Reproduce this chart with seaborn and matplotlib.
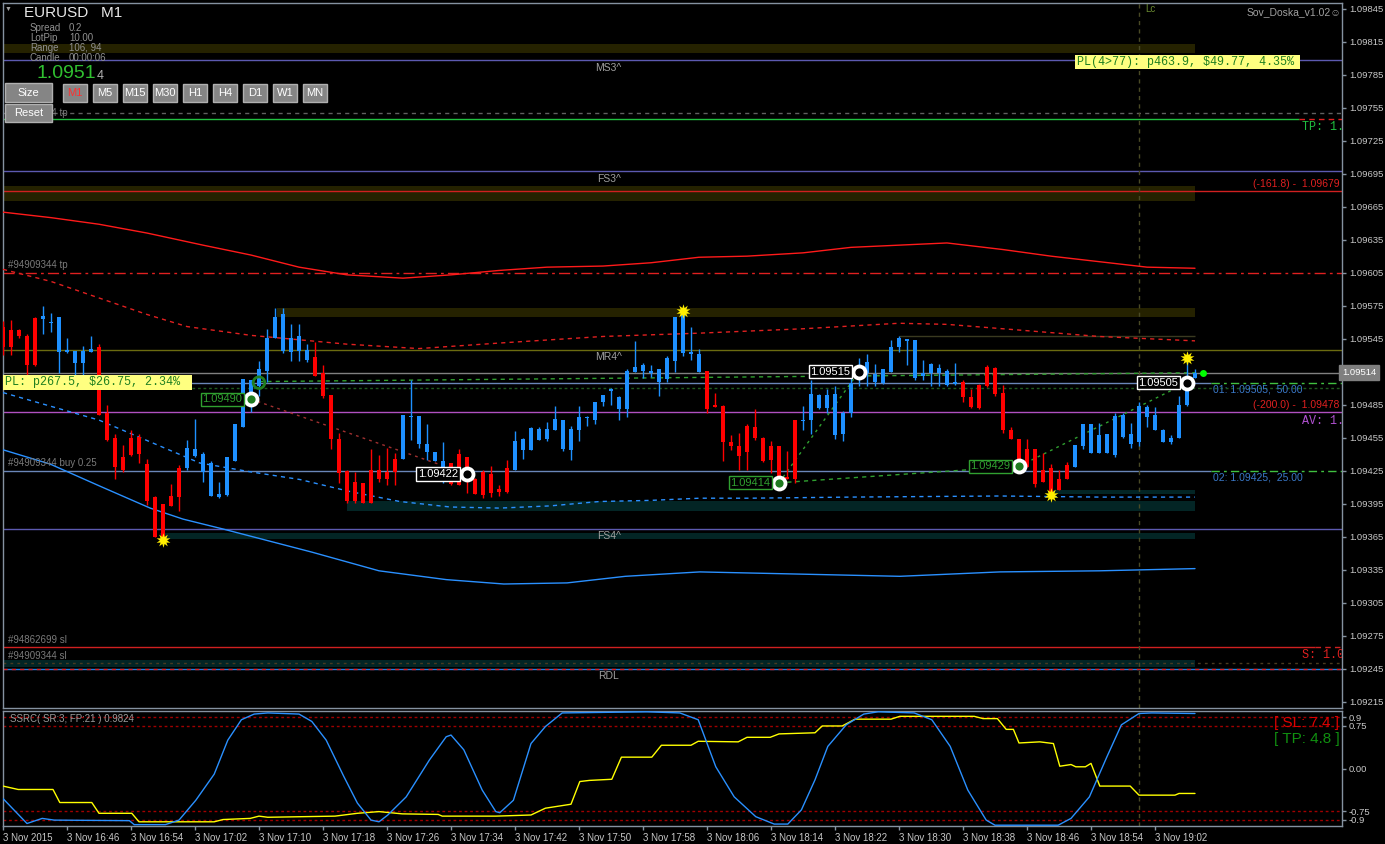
import matplotlib
matplotlib.use('Agg')
import matplotlib.pyplot as plt
from matplotlib.patches import Rectangle
import seaborn as sns
import numpy as np
import pandas as pd

W, H = 1385, 844
BASE = 1.09
PT = 1e-5   # prices below are stored as points above 1.09000

# ---------------- data ----------------
tick_labels = ['3 Nov 2015', '3 Nov 16:46', '3 Nov 16:54', '3 Nov 17:02', '3 Nov 17:10',
               '3 Nov 17:18', '3 Nov 17:26', '3 Nov 17:34', '3 Nov 17:42', '3 Nov 17:50',
               '3 Nov 17:58', '3 Nov 18:06', '3 Nov 18:14', '3 Nov 18:22', '3 Nov 18:30',
               '3 Nov 18:38', '3 Nov 18:46', '3 Nov 18:54', '3 Nov 19:02']

opens = [556, 553, 553, 547, 564, 563, 559, 533, 533, 523, 523, 533, 537, 477, 455, 437, 455, 456, 431, 401,
         395, 402, 427, 427, 438, 424, 402, 401, 403, 434, 465, 490, 502, 516, 546, 534, 533, 534, 526, 528,
         514, 494, 454, 425, 415, 414, 426, 426, 424, 436, 436, 474, 449, 442, 434, 423, 432, 440, 437, 417,
         424, 422, 408, 427, 426, 444, 444, 453, 454, 462, 445, 444, 462, 473, 471, 487, 497, 481, 481, 515,
         516, 514, 506, 508, 525, 532, 531, 515, 516, 485, 484, 451, 447, 466, 465, 455, 447, 447, 419, 471,
         470, 471, 482, 482, 457, 458, 477, 508, 514, 506, 505, 515, 537, 543, 509, 511, 514, 514, 503, 504,
         506, 492, 503, 519, 518, 496, 462, 454, 445, 445, 426, 427, 417, 430, 428, 447, 441, 441, 441, 439,
         456, 449, 451, 474, 462, 451, 451, 455, 485, 509]
highs = [561, 562, 554, 549, 565, 575, 568, 565, 546, 534, 538, 547, 540, 485, 458, 448, 462, 458, 436, 402,
         395, 413, 430, 453, 472, 442, 434, 415, 437, 467, 508, 507, 525, 554, 573, 573, 558, 558, 540, 542,
         521, 494, 459, 426, 424, 414, 445, 439, 446, 441, 476, 507, 475, 467, 442, 451, 432, 445, 437, 418,
         426, 429, 412, 435, 461, 455, 465, 465, 469, 484, 471, 466, 484, 475, 487, 494, 500, 493, 517, 543,
         523, 521, 517, 529, 565, 570, 556, 536, 516, 496, 485, 457, 459, 467, 481, 456, 452, 447, 443, 471,
         484, 507, 495, 499, 502, 479, 509, 527, 531, 522, 517, 544, 547, 545, 544, 526, 523, 522, 517, 523,
         507, 499, 504, 521, 519, 503, 465, 454, 454, 445, 441, 431, 426, 433, 448, 467, 467, 468, 458, 477,
         477, 468, 487, 485, 483, 463, 457, 493, 526, 517]
lows = [530, 530, 546, 512, 520, 549, 551, 514, 532, 512, 512, 533, 476, 452, 417, 424, 438, 432, 394, 365,
        362, 393, 388, 426, 437, 415, 402, 400, 402, 434, 465, 478, 493, 506, 546, 532, 525, 525, 524, 511,
        491, 445, 414, 396, 396, 396, 396, 415, 412, 412, 436, 453, 446, 435, 434, 414, 412, 412, 405, 404,
        400, 401, 402, 405, 426, 436, 444, 453, 452, 462, 443, 435, 452, 466, 467, 484, 485, 471, 474, 515,
        509, 510, 493, 506, 515, 529, 526, 515, 477, 483, 434, 444, 426, 426, 453, 433, 423, 420, 417, 414,
        462, 458, 481, 477, 454, 452, 474, 502, 502, 502, 504, 515, 533, 521, 507, 507, 502, 502, 502, 503,
        487, 482, 481, 501, 493, 459, 454, 430, 428, 410, 415, 403, 407, 417, 428, 445, 441, 441, 441, 437,
        455, 446, 447, 465, 462, 451, 449, 455, 484, 509]
closes = [537, 537, 547, 521, 521, 566, 560, 565, 535, 534, 534, 536, 476, 453, 428, 426, 439, 440, 397, 365,
          363, 393, 401, 446, 445, 440, 432, 404, 437, 467, 508, 507, 517, 546, 565, 567, 546, 547, 535, 511,
          493, 454, 423, 397, 397, 396, 396, 417, 417, 424, 476, 475, 475, 449, 442, 434, 413, 412, 426, 404,
          403, 405, 406, 406, 452, 454, 464, 463, 463, 472, 471, 463, 474, 474, 487, 494, 499, 492, 516, 519,
          521, 516, 517, 527, 565, 567, 533, 531, 481, 483, 451, 447, 438, 442, 455, 434, 435, 420, 417, 417,
          471, 495, 494, 494, 495, 477, 505, 516, 524, 513, 517, 537, 546, 545, 544, 514, 522, 518, 516, 506,
          492, 483, 482, 502, 495, 462, 454, 430, 428, 413, 415, 406, 407, 417, 448, 467, 467, 457, 458, 475,
          476, 458, 484, 483, 476, 462, 455, 485, 505, 514]

# moving average / envelope samples: (bar index, points)
env_up_bars = [0, 6, 12, 18, 25, 31, 37, 43, 50, 56, 62, 68, 75, 81, 87, 93, 100, 106, 112, 118, 125, 131, 137, 143, 149]
env_up_pts = [660, 655, 649, 641, 630, 621, 610, 603, 600, 603, 607, 610, 611, 614, 619, 620, 623, 628, 630, 632,
              626, 620, 615, 610, 609]
ma_red_bars = [0, 6, 12, 18, 23, 31, 37, 43, 52, 62, 75, 87, 100, 112, 118, 125, 137, 149]
ma_red_pts = [608, 597, 582, 567, 556, 548, 544, 540, 536, 541, 547, 550, 554, 559, 558, 554, 547, 543]
ma_blue_bars = [0, 12, 24.6, 30.9, 37.1, 43.4, 49.6, 55.9, 62.1, 68.4, 74.6, 80.9, 87.1, 93.4, 105.9, 124.6, 137.1, 149]
ma_blue_pts = [496, 471, 432, 424, 417, 406, 397, 392, 391, 393, 397, 398, 400, 400, 401, 402, 401, 401]
env_dn_bars = [0, 5.9, 12.1, 18.4, 22.5, 27.5, 38.6, 47, 55.4, 62.6, 70.5, 77.8, 87.1, 99.6, 112.1, 124.6, 137.1, 149]
env_dn_pts = [444, 431, 411, 391, 381, 372, 351, 334, 326, 322, 323, 329, 333, 331, 329, 333, 334, 336]

# SSRC oscillator samples
ssrc_bars = [0, 3, 4.9, 6.4, 15.8, 16.4, 20.3, 22, 24.1, 26.4, 28.1, 29.8, 31.4, 33.1, 37, 38.6, 40.4, 42.6,
             44.3, 46, 47, 48.1, 50.4, 53.3, 55.4, 56, 57.6, 59.9, 61.6, 62.1, 63.8, 66, 67.8, 69.9, 80.5,
             84.6, 86.9, 89.1, 91.4, 94.1, 96.4, 98.1, 99.8, 101.5, 103.1, 105.4, 107.6, 109.4, 113.9, 116.1,
             118.4, 120.6, 122.9, 124, 131.9, 133.5, 135.8, 138, 139.8, 142, 143.6, 149]
ssrc_vals = [-0.53, -0.97, -0.88, -0.91, -0.92, -0.99, -0.99, -0.91, -0.56, -0.10, 0.50, 0.86, 0.96, 0.98,
             0.96, 0.83, 0.50, -0.14, -0.61, -0.91, -0.94, -0.82, -0.50, 0.15, 0.56, 0.59, 0.33, -0.38,
             -0.76, -0.78, -0.56, 0.44, 0.74, 0.98, 1.0, 0.98, 0.86, 0.03, -0.50, -0.85, -0.98, -0.98,
             -0.73, -0.20, 0.39, 0.77, 0.96, 1.0, 0.98, 0.86, 0.39, -0.38, -0.91, -1.0, -1.0, -0.88,
             -0.50, 0.21, 0.77, 0.97, 0.98, 0.97]
signal_bars = [0, 1.9, 6.25, 7.1, 11.1, 12, 16.1, 17, 26.4, 27.5, 30.9, 32, 33.1, 41.5, 44.3, 47, 49.9, 54.4,
               54.9, 61.6, 66, 67.8, 71, 72.1, 73.3, 76.1, 77.3, 81.1, 82.3, 86, 86.9, 91.9, 93, 95.9, 97,
               101.5, 102.4, 104.9, 106.5, 111, 112.1, 121.4, 122.5, 124.3, 125.4, 126.3, 127, 129.6, 131.3,
               132.1, 133.5, 134.1, 135.3, 136, 137.1, 140.9, 142, 146.5, 147, 149]
signal_vals = [-0.31, -0.37, -0.37, -0.60, -0.60, -0.79, -0.79, -0.94, -0.94, -0.90, -0.88, -0.84, -0.86,
               -0.84, -0.79, -0.76, -0.80, -0.81, -0.84, -0.84, -0.82, -0.70, -0.63, -0.23, -0.21, -0.19,
               0.20, 0.20, 0.41, 0.41, 0.48, 0.47, 0.55, 0.55, 0.61, 0.63, 0.75, 0.75, 0.87, 0.87, 0.92,
               0.92, 0.88, 0.88, 0.69, 0.69, 0.45, 0.47, 0.44, 0.04, 0.07, 0.03, 0.03, 0.09, -0.31, -0.31,
               -0.47, -0.47, -0.44, -0.44]

# trade markers
order_bars = [31, 58, 97, 107, 127, 148]
order_prices = [1.09490, 1.09422, 1.09414, 1.09515, 1.09429, 1.09505]
order_green = [True, False, True, False, True, False]
star_bars = [20, 85, 131, 148]
star_prices = [1.09362, 1.09570, 1.09403, 1.09527]

# key levels
bid = 1.09514
order1, order2 = 1.09505, 1.09425
fib_161, fib_200 = 1.09679, 1.09478
ms3, fs3, mr4, fs4, rdl = 1.09798, 1.09697, 1.09535, 1.09372, 1.09245
tp_a, tp_b, tp_c = 1.09750, 1.09745, 1.09605
sl_a, sl_b = 1.09265, 1.09250
be_line = 1.09500


def fx(x):
    return x / W


def fy(y):
    return 1 - y / H


def pts(v):
    return [BASE + p * PT for p in v]


sns.set_theme(style='dark', rc={'axes.facecolor': 'black', 'figure.facecolor': 'black'})
plt.rcParams['font.family'] = ['Liberation Sans', 'DejaVu Sans']
MONO = ['Liberation Mono', 'DejaVu Sans Mono']
BULL, BEAR = '#1e90ff', '#ff0000'
FRAME = '#8592a0'
TXT = '#c8c8c8'
OLIVE_BAND = '#252200'
TEAL_BAND = '#032525'

fig = plt.figure(figsize=(W / 100, H / 100), dpi=100)
ax = fig.add_axes([fx(3), fy(708), (1342 - 3) / W, (708 - 3) / H])
ax2 = fig.add_axes([fx(3), fy(826), (1342 - 3) / W, (826 - 711) / H])
XMAX = (1342 - 3) / 8
for a in (ax, ax2):
    a.set_facecolor('black')
    for s in a.spines.values():
        s.set_color(FRAME)
        s.set_linewidth(1)
    a.set_xlim(0, XMAX)
    a.grid(False)
ax.set_ylim(1.092093, 1.098501)
ax2.set_ylim(-1.014, 1.014)

LAST = 149


# ---- bands ----
def band(lo, hi, b0, color):
    ax.add_patch(Rectangle((b0, lo), LAST - b0, hi - lo, color=color, lw=0, zorder=1))


band(1.09805, 1.09813, 0, OLIVE_BAND)
band(1.09670, 1.09684, 0, OLIVE_BAND)
band(1.09565, 1.09573, 34.2, OLIVE_BAND)
band(1.09388, 1.09397, 43, TEAL_BAND)
band(1.09404, 1.09407, 131.2, TEAL_BAND)
band(1.09363, 1.09368, 19.6, TEAL_BAND)
band(1.09247, 1.09253, 0, TEAL_BAND)

# ---- horizontal levels ----
ax.axhline(ms3, color='#5c5ab0', lw=1, zorder=2)
ax.axhline(fs3, color='#5c5ab0', lw=1, zorder=2)
ax.axhline(fs4, color='#5c5ab0', lw=1, zorder=2)
ax.axhline(mr4, color='#6b6b10', lw=1, zorder=2)
ax.axhline(fib_161, color='#d02020', lw=1, zorder=2)
ax.axhline(fib_200, color='#b050c0', lw=1, zorder=2)
ax.axhline(bid, color='#808080', lw=1, zorder=2)
ax.axhline(be_line, color='#1f5a1f', lw=1, ls=(0, (2, 2)), zorder=2)
ax.axhline(tp_a, color='#606060', lw=1, ls=(0, (3, 3)), zorder=2)
ax.axhline(tp_c, color='#e02020', lw=1, ls=(0, (8, 3, 2, 3)), zorder=2)
ax.hlines(tp_b, 0, 162, color='#20c040', lw=1, zorder=2)
ax.hlines(tp_b, 162, XMAX, color='#e02020', lw=1, ls=(0, (4, 3)), zorder=2)
ax.hlines(1.09547, 112, LAST, color='#3a3a20', lw=1, zorder=2)
for lvl in (order1, order2):
    ax.hlines(lvl, 0, 151, color='#6a86b8', lw=1, zorder=2)
    ax.hlines(lvl, 151, XMAX, color='#40c040', lw=1, ls=(0, (6, 3, 2, 3)), zorder=2)
ax.hlines(sl_a, 0, 164, color='#d02020', lw=1, zorder=2)
ax.hlines(sl_a, 164, XMAX, color='#d02020', lw=1, ls=(0, (4, 3)), zorder=2)
ax.axhline(sl_b, color='#4a3a20', lw=1, ls=(0, (2, 3)), zorder=2)
ax.axhline(rdl, color='#2080e0', lw=1, zorder=2)
ax.axhline(rdl, color='#e02020', lw=1, ls=(0, (3, 3)), zorder=2)
ax.axvline(142, color='#4a4a25', lw=1, ls=(0, (3, 3)), zorder=2)
ax2.axvline(142, color='#4a4a25', lw=1, ls=(0, (3, 3)), zorder=2)

# ---- envelopes / MAs ----
sns.lineplot(x=env_up_bars, y=pts(env_up_pts), ax=ax, color='#ff1a1a', lw=1, zorder=3)
sns.lineplot(x=ma_red_bars, y=pts(ma_red_pts), ax=ax, color='#e02020', lw=1, ls=(0, (3, 3)), zorder=3)
sns.lineplot(x=ma_blue_bars, y=pts(ma_blue_pts), ax=ax, color='#2a90ff', lw=1, ls=(0, (3, 3)), zorder=3)
sns.lineplot(x=env_dn_bars, y=pts(env_dn_pts), ax=ax, color='#2a90ff', lw=1, zorder=3)

# ---- trade connectors ----
ax.plot([31, 58], [1.09490, 1.09422], color='#a03030', lw=1, ls=(0, (2, 3)), zorder=3)
ax.plot([97, 107], [1.09414, 1.09515], color='#30a030', lw=1, ls=(0, (2, 3)), zorder=3)
ax.plot([127, 148], [1.09429, 1.09505], color='#30a030', lw=1, ls=(0, (2, 3)), zorder=3)
ax.plot([97, 127], [1.09414, 1.09429], color='#30a030', lw=1, ls=(0, (3, 3)), zorder=3)
ax.plot([32, 149], [1.09506, 1.09514], color='#30a030', lw=1, ls=(0, (3, 3)), zorder=3)

# ---- candles ----
df = pd.DataFrame({'open': pts(opens), 'high': pts(highs), 'low': pts(lows), 'close': pts(closes)})
df['bar'] = np.arange(len(df))
colors = np.where(df['close'] >= df['open'], BULL, BEAR)
ax.vlines(df['bar'], df['low'], df['high'], colors=colors, lw=1, zorder=5)
body_lo = np.minimum(df['open'], df['close'])
body_h = np.maximum((df['close'] - df['open']).abs(), 0.7 * PT)
ax.bar(df['bar'], body_h, bottom=body_lo, width=0.62, color=colors, lw=0, zorder=6)

# ---- markers ----
ax.scatter(star_bars, star_prices, marker=(10, 1, 0), s=110, color='#ffee00', zorder=9, lw=0)
for b, p, g in zip(order_bars, order_prices, order_green):
    ax.scatter([b], [p], s=130, color='white', zorder=9, lw=0)
    ax.scatter([b], [p], s=35, color='#1f7a1f' if g else 'black', zorder=10, lw=0)
    ax.text(b - 1.1, p, f'{p:.5f}', ha='right', va='center', fontsize=8,
            color='#30a030' if g else 'white', zorder=11,
            bbox=dict(boxstyle='square,pad=0.15', fc='black', ec='#30a030' if g else 'white', lw=1))
ax.scatter([32], [order1], s=70, facecolor='none', edgecolor='#208020', lw=2, zorder=9)
ax.scatter([150], [bid], s=25, color='#00ff00', zorder=9, lw=0)

# ---- level labels ----
for lvl, name in ((ms3, 'MS3^'), (fs3, 'FS3^'), (mr4, 'MR4^'), (fs4, 'FS4^'), (rdl, 'RDL')):
    ax.text(75.7, lvl - 0.00002, name, ha='center', va='top', fontsize=7.5, color='#a0a0a0', zorder=8)
for lvl, name in ((tp_c, '#94909344 tp'), (order2, '#94909344 buy 0.25'),
                  (sl_a, '#94862699 sl'), (sl_b, '#94909344 sl')):
    ax.text(0.6, lvl + 0.00002, name, ha='left', va='bottom', fontsize=7, color='#7a7a7a', zorder=8)
ax.text(0.6, tp_a, '#94909344 tp', ha='left', va='center', fontsize=7, color='#7a7a7a', zorder=8)
ax.text(XMAX - 0.3, fib_161 + 0.00002, '(-161.8) -  1.09679', ha='right', va='bottom', fontsize=7.5,
        color='#e02020', zorder=8)
ax.text(XMAX - 0.3, fib_200 + 0.00002, '(-200.0) -  1.09478', ha='right', va='bottom', fontsize=7.5,
        color='#e02020', zorder=8)
ax.text(151.2, order1 - 0.00002, '01: 1.09505,  50.00', ha='left', va='top', fontsize=7.5,
        color='#3a78c8', zorder=8)
ax.text(151.2, order2 - 0.00002, '02: 1.09425,  25.00', ha='left', va='top', fontsize=7.5,
        color='#3a78c8', zorder=8)
ax.text(162.4, tp_b - 0.00002, 'TP: 1.', ha='left', va='top', fontsize=8.5, family=MONO,
        color='#20c040', zorder=8, clip_on=True)
ax.text(162.4, fib_200 - 0.00002, 'AV: 1.', ha='left', va='top', fontsize=8.5, family=MONO,
        color='#b050d0', zorder=8, clip_on=True)
ax.text(162.4, sl_a - 0.00002, 'S: 1.0', ha='left', va='top', fontsize=8.5, family=MONO,
        color='#e02020', zorder=8, clip_on=True)
ax.text(142.8, 1.098445, 'Lc', ha='left', va='center', fontsize=7, color='#6a8a30', zorder=8)

# ---- price axis ----
ax.set_xticks([])
ax.yaxis.tick_right()
price_ticks = np.arange(1.09215, 1.09846, 0.0003)
ax.set_yticks(price_ticks)
# the tick hidden behind the bid box is left blank, as on the terminal
ax.set_yticklabels(['' if abs(t - bid) < 0.00005 else f'{t:.5f}' for t in price_ticks])
ax.tick_params(axis='y', colors=FRAME, labelcolor=TXT, length=3, width=1, pad=2, labelsize=6.8, right=True)
ax.text(1.0, bid, f'{bid:.5f}', transform=ax.get_yaxis_transform(), ha='left', va='center',
        fontsize=6.8, color='white', zorder=12, clip_on=False,
        bbox=dict(boxstyle='square,pad=0.3', fc='#7f7f7f', ec='#7f7f7f'))

# ---- oscillator ----
for lv in (0.9, 0.75, -0.75, -0.9):
    ax2.axhline(lv, color='#a00000', lw=1, ls=(0, (2, 2)), zorder=2)
sns.lineplot(x=signal_bars, y=signal_vals, ax=ax2, color='#ffff00', lw=1, zorder=3)
sns.lineplot(x=ssrc_bars, y=ssrc_vals, ax=ax2, color='#2a90ff', lw=1, zorder=4)
ax2.yaxis.tick_right()
ax2.set_yticks([0.9, 0.75, 0.0, -0.75, -0.9])
ax2.set_yticklabels(['0.9', '0.75', '0.00', '-0.75', '-0.9'])
ax2.set_xticks(range(0, 145, 8))
ax2.set_xticklabels(tick_labels, ha='left')
ax2.tick_params(axis='y', colors=FRAME, labelcolor=TXT, length=3, width=1, pad=2, labelsize=6.8, right=True)
ax2.tick_params(axis='x', colors=FRAME, labelcolor=TXT, length=3, width=1, pad=2, labelsize=7, bottom=True)
ax2.set_xlabel('')
ax2.set_ylabel('')
ax.set_xlabel('')
ax.set_ylabel('')
ax2.text(0.005, 0.93, 'SSRC( SR:3, FP:21 ) 0.9824', transform=ax2.transAxes, ha='left', va='center',
         fontsize=7, color='#9a9a9a')
ax2.text(0.998, 0.90, '[ SL: 7.4 ]', transform=ax2.transAxes, ha='right', va='center',
         fontsize=11, color='#e00000')
ax2.text(0.998, 0.76, '[ TP: 4.8 ]', transform=ax2.transAxes, ha='right', va='center',
         fontsize=11, color='#109010')

# ---- overlay panel (top left / top right) ----
fig.text(fx(8), fy(9), '\u25BC', fontsize=5, color='#a0a0a0', ha='center', va='center')
fig.text(fx(24), fy(13), 'EURUSD   M1', fontsize=11, color='#e8e8e8', ha='left', va='center')
info = [('Spread', '0.2'), ('LotPip', '10.00'), ('Range', '106, 94'), ('Candle', '00:00:06')]
for i, (k, v) in enumerate(info):
    fig.text(fx(30), fy(28 + 10 * i), k, fontsize=7, color='#909090', ha='left', va='center')
    fig.text(fx(69), fy(28 + 10 * i), v, fontsize=7, color='#909090', ha='left', va='center')
fig.text(fx(36), fy(74), '1.0951', fontsize=14, color='#30c030', ha='left', va='center')
fig.text(fx(97), fy(76), '4', fontsize=9, color='#b0b0b0', ha='left', va='center')
fig.text(fx(1247), fy(12), 'Sov_Doska_v1.02\u263A', fontsize=7.5, color='#a0a0a0', ha='left', va='center')


def button(x0, y0, x1, y1, label, color='white'):
    fig.patches.append(Rectangle((fx(x0), fy(y1)), fx(x1) - fx(x0), fy(y0) - fy(y1),
                                 transform=fig.transFigure, fc='#858585', ec='#b0b0b0', lw=1, zorder=20))
    fig.text(fx((x0 + x1) / 2), fy((y0 + y1) / 2), label, fontsize=8, color=color,
             ha='center', va='center', zorder=21)


button(5, 83, 52, 102, 'Size')
button(5, 104, 52, 122, 'Reset')
for i, tf in enumerate(['M1', 'M5', 'M15', 'M30', 'H1', 'H4', 'D1', 'W1', 'MN']):
    button(63 + 30 * i, 84, 87 + 30 * i, 102, tf, '#ff3030' if tf == 'M1' else 'white')


def pl_box(x0, y0, x1, y1, label):
    fig.patches.append(Rectangle((fx(x0), fy(y1)), fx(x1) - fx(x0), fy(y0) - fy(y1),
                                 transform=fig.transFigure, fc='#ffff80', ec='none', zorder=20))
    fig.text(fx(x0 + 2), fy((y0 + y1) / 2), label, fontsize=8.5, family=MONO, color='#208020',
             ha='left', va='center', zorder=21)


pl_box(1075, 55, 1300, 69, 'PL(4>77): p463.9, $49.77, 4.35%')
pl_box(3, 375, 192, 390, 'PL: p267.5, $26.75, 2.34%')

fig.savefig('out.png', dpi=100, facecolor='black')
